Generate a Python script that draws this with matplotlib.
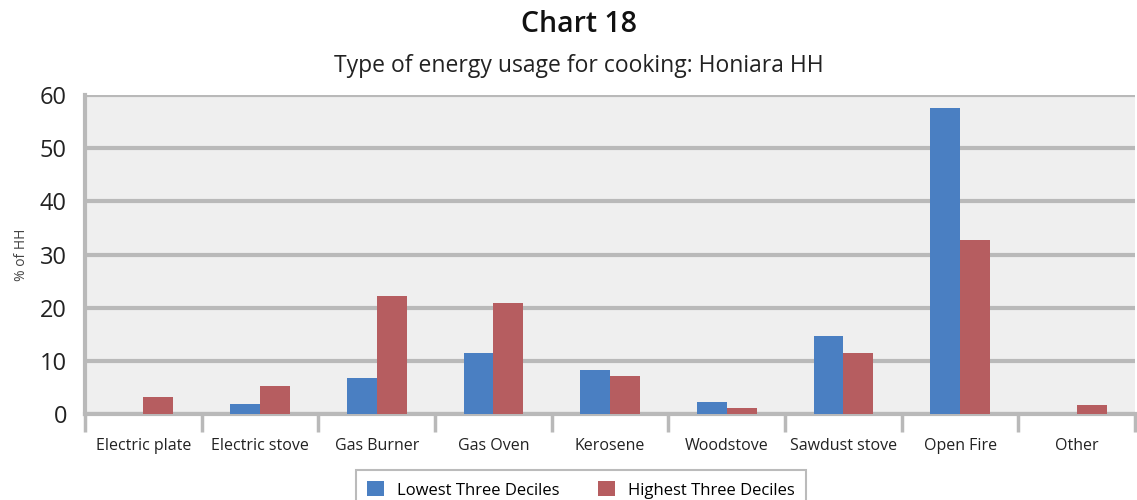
import numpy as np
import matplotlib.pyplot as plt
from matplotlib.patches import Patch

categories = ["Electric plate", "Electric stove", "Gas Burner", "Gas Oven", "Kerosene",
              "Woodstove", "Sawdust stove", "Open Fire", "Other"]
lowest = [0, 1.8, 6.8, 11.5, 8.2, 2.3, 14.7, 57.5, 0]
highest = [3.2, 5.3, 22.2, 20.9, 7.1, 1.2, 11.5, 32.8, 1.6]
series_names = ["Lowest Three Deciles", "Highest Three Deciles"]
yticks = [0, 10, 20, 30, 40, 50, 60]

plt.rcParams['font.family'] = ['Open Sans', 'DejaVu Sans']

blue = "#4a7fc2"
red = "#b65d60"
grid_col = "#b9b9b9"

fig = plt.figure(figsize=(11.37, 5.0), dpi=100)
ax = fig.add_axes([0.0748, 0.172, 0.9235, 0.638])
ax.set_facecolor("#efefef")

x = np.arange(len(categories))
w = 0.256
ax.bar(x - w / 2, lowest, width=w, color=blue, zorder=3)
ax.bar(x + w / 2, highest, width=w, color=red, zorder=3)

ax.set_xlim(-0.5, len(categories) - 0.5)
ax.set_ylim(0, 60)
ax.set_yticks(yticks)
ax.yaxis.grid(True, color=grid_col, linewidth=3, zorder=1)
ax.tick_params(axis='y', length=0, labelsize=17, pad=13, labelcolor="#222222")

ax.set_xticks(x)
ax.set_xticklabels(categories)
ax.tick_params(axis='x', which='major', length=0, labelsize=11.5, pad=17, labelcolor="#222222")
ax.set_xticks(np.arange(-0.5, len(categories) - 0.4, 1.0), minor=True)
ax.tick_params(axis='x', which='minor', length=13, width=2.5, color=grid_col, direction='out')

for side in ["top", "right"]:
    ax.spines[side].set_visible(False)
ax.spines["left"].set_color(grid_col)
ax.spines["left"].set_linewidth(3)
ax.spines["bottom"].set_color(grid_col)
ax.spines["bottom"].set_linewidth(3)

ax.set_ylabel("% of HH", fontsize=10, color="#444444", labelpad=8)

fig.text(0.509, 0.952, "Chart 18", ha="center", va="center", fontsize=20.5, fontweight="semibold", color="#111111")
fig.text(0.509, 0.868, "Type of energy usage for cooking: Honiara HH", ha="center", va="center",
         fontsize=16.5, color="#222222")

handles = [Patch(facecolor=blue, label=series_names[0]), Patch(facecolor=red, label=series_names[1])]
leg = fig.legend(handles=handles, loc="center", bbox_to_anchor=(0.511, 0.02), ncol=2, fontsize=12,
                 frameon=True, fancybox=False, edgecolor="#aaaaaa", handlelength=1.0, handleheight=1.0,
                 columnspacing=2.3, borderpad=0.7, handletextpad=0.8)
leg.get_frame().set_linewidth(1.5)

fig.savefig("out.png", dpi=100)
